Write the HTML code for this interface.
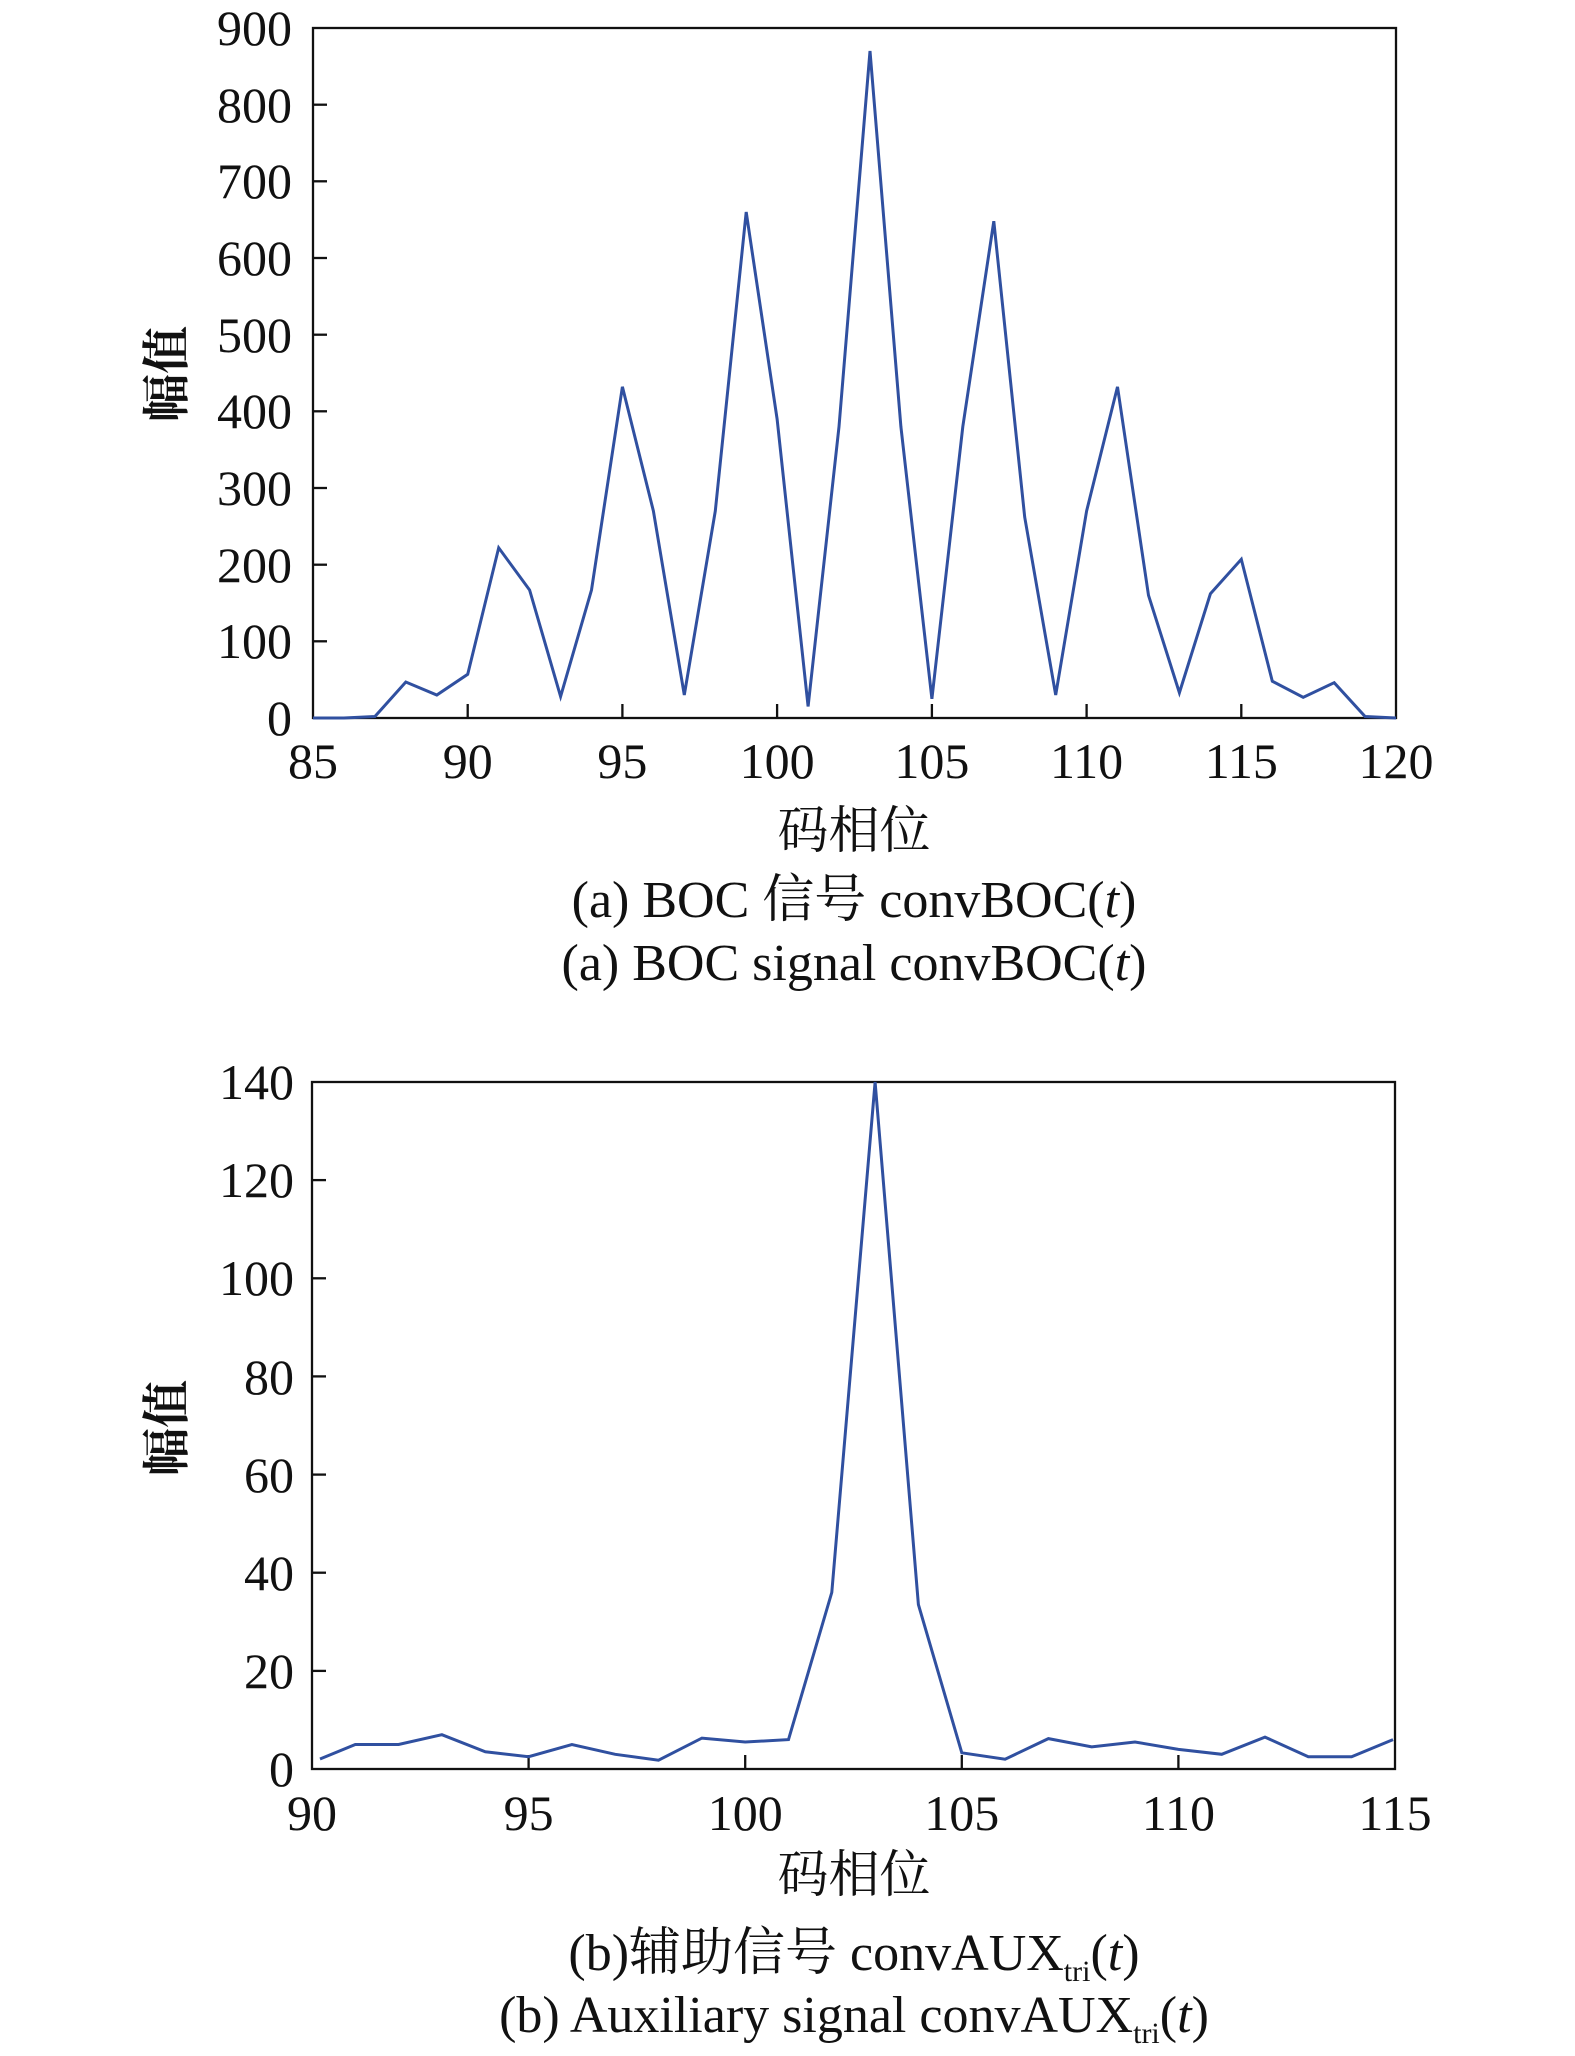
<!DOCTYPE html>
<html><head><meta charset="utf-8"><style>html,body{margin:0;padding:0;background:#fff}svg{display:block}</style></head><body>
<svg xmlns="http://www.w3.org/2000/svg" width="1575" height="2056" viewBox="0 0 1575 2056" font-family="'Liberation Serif','Noto Serif CJK SC',serif">
<rect width="1575" height="2056" fill="#fff"/>
<g id="a">
<rect x="313" y="28" width="1083" height="690" fill="none" stroke="#111" stroke-width="2.3"/>
<g stroke="#111" stroke-width="2.3">
<line x1="467.7" y1="718" x2="467.7" y2="704"/><line x1="622.4" y1="718" x2="622.4" y2="704"/><line x1="777.1" y1="718" x2="777.1" y2="704"/><line x1="931.9" y1="718" x2="931.9" y2="704"/><line x1="1086.6" y1="718" x2="1086.6" y2="704"/><line x1="1241.3" y1="718" x2="1241.3" y2="704"/>
<line x1="313" y1="641.3" x2="327" y2="641.3"/><line x1="313" y1="564.7" x2="327" y2="564.7"/><line x1="313" y1="488" x2="327" y2="488"/><line x1="313" y1="411.3" x2="327" y2="411.3"/><line x1="313" y1="334.7" x2="327" y2="334.7"/><line x1="313" y1="258" x2="327" y2="258"/><line x1="313" y1="181.3" x2="327" y2="181.3"/><line x1="313" y1="104.7" x2="327" y2="104.7"/>
</g>
<g font-size="50" fill="#111" text-anchor="end">
<text x="292" y="735">0</text><text x="292" y="658">100</text><text x="292" y="582">200</text><text x="292" y="505">300</text><text x="292" y="428">400</text><text x="292" y="352">500</text><text x="292" y="275">600</text><text x="292" y="198">700</text><text x="292" y="122">800</text><text x="292" y="45">900</text>
</g>
<g font-size="50" fill="#111" text-anchor="middle">
<text x="313" y="778">85</text><text x="467.7" y="778">90</text><text x="622.4" y="778">95</text><text x="777.1" y="778">100</text><text x="931.9" y="778">105</text><text x="1086.6" y="778">110</text><text x="1241.3" y="778">115</text><text x="1396" y="778">120</text>
</g>
<polyline fill="none" stroke="#3050a0" stroke-width="3" stroke-linejoin="miter" points="313,718 343.9,718 374.9,716.5 405.8,682 436.8,695 467.7,674.3 498.7,547.8 529.6,590 560.6,696.5 591.5,590 622.4,386.8 653.4,511 684.3,695 715.3,511 746.2,212 777.1,419 808.1,706.5 839,426.7 870,51 900.9,426.7 931.9,698.8 962.8,426.7 993.8,221.2 1024.7,517.1 1055.7,695 1086.6,511 1117.5,386.8 1148.5,595.3 1179.4,692.7 1210.4,593.8 1241.3,559.3 1272.3,681.2 1303.2,697.3 1334.2,682.7 1365.1,716.5 1396,718"/>
<text x="0" y="0" font-size="48" font-weight="bold" fill="#111" text-anchor="middle" transform="translate(183,374) rotate(-90)">幅值</text>
<text x="854" y="848" font-size="51" fill="#111" text-anchor="middle">码相位</text>
<text x="854" y="917" font-size="52" fill="#111" text-anchor="middle">(a) BOC 信号 convBOC(<tspan font-style="italic">t</tspan>)</text>
<text x="854" y="980" font-size="52" fill="#111" text-anchor="middle">(a) BOC signal convBOC(<tspan font-style="italic">t</tspan>)</text>
</g>
<g id="b">
<rect x="312" y="1082" width="1083" height="687" fill="none" stroke="#111" stroke-width="2.3"/>
<g stroke="#111" stroke-width="2.3">
<line x1="528.6" y1="1769" x2="528.6" y2="1755"/><line x1="745.2" y1="1769" x2="745.2" y2="1755"/><line x1="961.8" y1="1769" x2="961.8" y2="1755"/><line x1="1178.4" y1="1769" x2="1178.4" y2="1755"/>
<line x1="312" y1="1670.9" x2="326" y2="1670.9"/><line x1="312" y1="1572.7" x2="326" y2="1572.7"/><line x1="312" y1="1474.6" x2="326" y2="1474.6"/><line x1="312" y1="1376.4" x2="326" y2="1376.4"/><line x1="312" y1="1278.3" x2="326" y2="1278.3"/><line x1="312" y1="1180.1" x2="326" y2="1180.1"/>
</g>
<g font-size="50" fill="#111" text-anchor="end">
<text x="294" y="1786">0</text><text x="294" y="1688">20</text><text x="294" y="1590">40</text><text x="294" y="1492">60</text><text x="294" y="1394">80</text><text x="294" y="1295">100</text><text x="294" y="1197">120</text><text x="294" y="1099">140</text>
</g>
<g font-size="50" fill="#111" text-anchor="middle">
<text x="312" y="1830">90</text><text x="528.6" y="1830">95</text><text x="745.2" y="1830">100</text><text x="961.8" y="1830">105</text><text x="1178.4" y="1830">110</text><text x="1395" y="1830">115</text>
</g>
<polyline fill="none" stroke="#3050a0" stroke-width="3" points="320,1759 355.3,1744.5 398.6,1744.5 441.9,1734.7 485.3,1751.8 528.6,1756.7 571.9,1744.5 615.2,1754.3 658.5,1760.2 701.9,1738.1 745.2,1742 788.5,1739.6 831.8,1592.4 875.1,1082 918.4,1604.6 961.8,1752.8 1005.1,1759.2 1048.4,1738.6 1091.7,1746.9 1135,1742 1178.4,1749.4 1221.7,1754.3 1265,1737.1 1308.3,1756.7 1351.6,1756.7 1393,1739.6"/>
<text x="0" y="0" font-size="48" font-weight="bold" fill="#111" text-anchor="middle" transform="translate(183,1428) rotate(-90)">幅值</text>
<text x="854" y="1892" font-size="51" fill="#111" text-anchor="middle">码相位</text>
<text x="854" y="1970" font-size="52" fill="#111" text-anchor="middle">(b)辅助信号 convAUX<tspan font-size="30" dy="11">tri</tspan><tspan dy="-11">(</tspan><tspan font-style="italic">t</tspan>)</text>
<text x="854" y="2032" font-size="52" fill="#111" text-anchor="middle">(b) Auxiliary signal convAUX<tspan font-size="30" dy="11">tri</tspan><tspan dy="-11">(</tspan><tspan font-style="italic">t</tspan>)</text>
</g>
</svg>
</body></html>
